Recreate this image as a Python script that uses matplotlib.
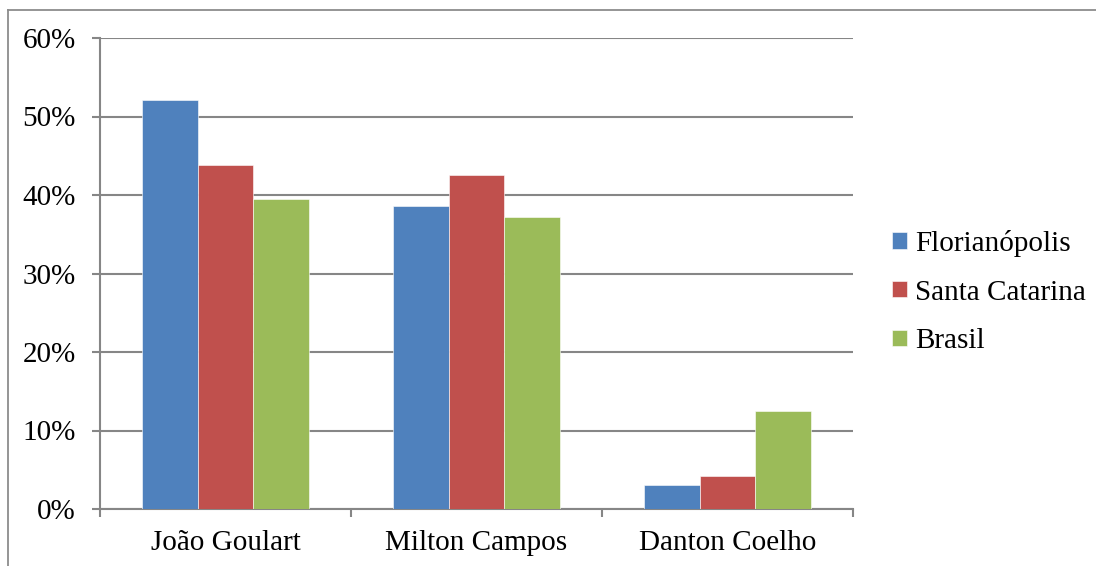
import matplotlib
matplotlib.use("Agg")
import matplotlib.pyplot as plt
import numpy as np
from matplotlib.ticker import FuncFormatter, MultipleLocator
from matplotlib.lines import Line2D

candidates = ["João Goulart", "Milton Campos", "Danton Coelho"]
series_names = ["Florianópolis", "Santa Catarina", "Brasil"]
florianopolis = [52.1, 38.6, 3.1]
santa_catarina = [43.8, 42.5, 4.2]
brasil = [39.5, 37.2, 12.5]
colors = ["#4F81BD", "#C0504D", "#9BBB59"]

plt.rcParams["font.family"] = ["Liberation Serif", "DejaVu Serif"]

fig = plt.figure(figsize=(10.96, 5.66), dpi=100)
ax = fig.add_axes([100 / 1096, 1 - 509 / 566, 753 / 1096, 471 / 566])

x = np.arange(len(candidates))
w = 1 / 4.5
handles = []
for i, (vals, name, c) in enumerate(zip([florianopolis, santa_catarina, brasil], series_names, colors)):
    b = ax.bar(x + (i - 1) * w, vals, width=w, color=c, edgecolor="#ffffff", linewidth=0.4,
               label=name, zorder=3)
    handles.append(b)

ax.set_xlim(-0.5, len(candidates) - 0.5)
ax.set_ylim(0, 60)
ax.yaxis.set_major_locator(MultipleLocator(10))
ax.yaxis.set_major_formatter(FuncFormatter(lambda v, p: f"{v:.0f}%"))
ax.grid(axis="y", color="#868686", linewidth=1.5, zorder=0)
ax.set_axisbelow(True)

for s in ["top", "right"]:
    ax.spines[s].set_visible(False)
for s in ["left", "bottom"]:
    ax.spines[s].set_color("#868686")
    ax.spines[s].set_linewidth(1.5)

ax.set_xticks(x)
ax.set_xticklabels(candidates)
ax.set_xticks(np.arange(len(candidates) + 1) - 0.5, minor=True)
ax.tick_params(axis="x", which="major", length=0, pad=15, labelsize=21)
ax.tick_params(axis="x", which="minor", length=6, width=1.5, color="#868686")
ax.tick_params(axis="y", length=6, width=1.5, color="#868686", pad=11.5, labelsize=21)

leg = fig.legend(handles=handles, labels=series_names, loc="center left",
                 bbox_to_anchor=(892 / 1096, 1 - 292 / 566), frameon=False,
                 fontsize=21, handlelength=0.5, handleheight=0.5, handletextpad=0.28,
                 labelspacing=0.78, borderaxespad=0, borderpad=0)

# chart area outline
fig.add_artist(Line2D([8 / 1096, 8 / 1096], [0, 1 - 10 / 566], transform=fig.transFigure,
                      color="#8c8c8c", linewidth=1.3))
fig.add_artist(Line2D([8 / 1096, 1], [1 - 10 / 566, 1 - 10 / 566], transform=fig.transFigure,
                      color="#8c8c8c", linewidth=1.3))

fig.savefig("out.png", dpi=100, facecolor="white")
